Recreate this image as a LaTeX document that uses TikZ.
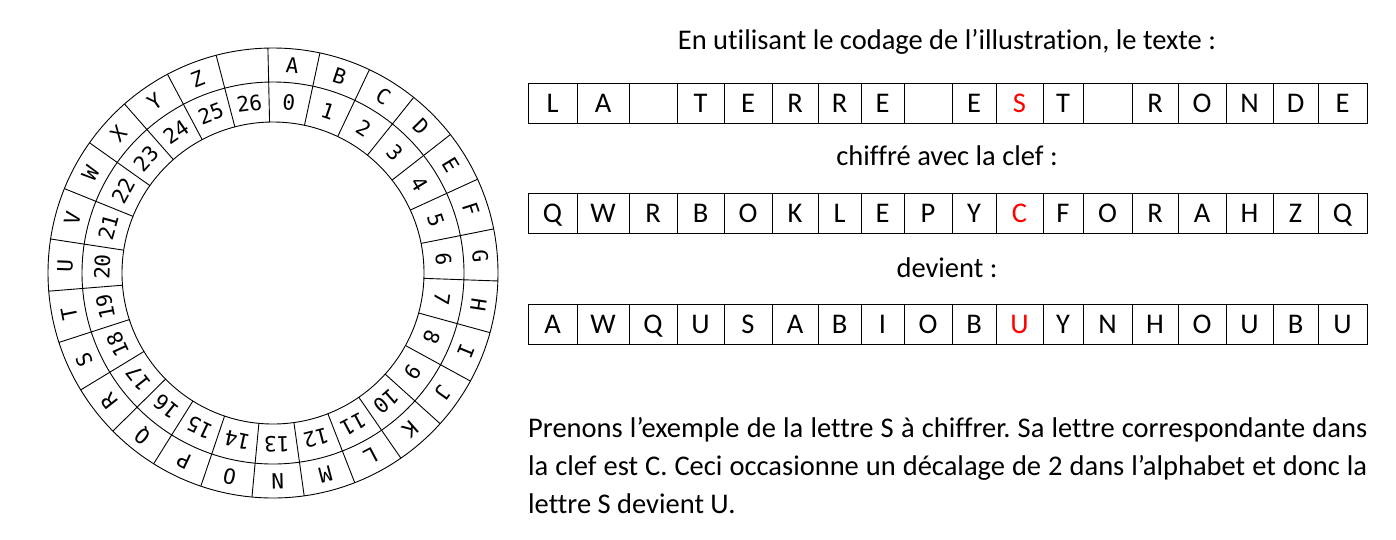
\documentclass[tikz,border=0pt]{standalone}
\usepackage{fontspec}
\setmainfont[Ligatures=NoCommon]{Carlito}
\newfontfamily\wheelfont{DejaVu Sans Mono}
\usetikzlibrary{positioning}
\frenchspacing

\begin{document}
\begin{tikzpicture}[
		x=1pt, y=1pt,
		font=\fontsize{28.5}{38}\selectfont,
		% Styles
		wheelLine/.style={draw=black, line width=0.9pt},
		wheelLetter/.style={font=\wheelfont\fontsize{21}{21}\selectfont, inner sep=0pt},
		cellBox/.style={draw=black, line width=1pt, minimum height=40, inner sep=0pt, text height=18pt, text depth=0pt},
		caption/.style={anchor=base, inner sep=0pt}
		]
		\useasboundingbox (0,0) rectangle (1396,-539);
		
		% =========================================================
		% 1. CIPHER WHEEL
		% =========================================================
		\begin{scope}[shift={(273,-273)}]
			\draw[wheelLine] (0,0) circle (225);
			\draw[wheelLine] (0,0) circle (191);
			\draw[wheelLine] (0,0) circle (151);
			\foreach \k in {0,...,26}
				\draw[wheelLine] ({91.3-13.3333*\k}:151) -- ({91.3-13.3333*\k}:225);
			% Letters (outer ring) and numbers (inner ring)
			\foreach \l [count=\k from 0] in {A,B,C,D,E,F,G,H,I,J,K,L,M,N,O,P,Q,R,S,T,U,V,W,X,Y,Z} {
				\pgfmathsetmacro\a{91.3-13.3333*(\k+0.5)}
				\node[wheelLetter, rotate=\a-90] (let-\k) at (\a:208) {\l};
			}
			\foreach \k in {0,...,26} {
				\pgfmathsetmacro\a{91.3-13.3333*(\k+0.5)}
				\node[wheelLetter, rotate=\a-90] (num-\k) at (\a:171) {\k};
			}
		\end{scope}
		
		% =========================================================
		% 2. TABLES
		% =========================================================
		\def\colx{{528,577,629,677,724,772,818,861,904,952,996,1043,1083,1132,1178,1226,1273,1318,1367}}
		
		\node[caption] (Title) at (947,-49) {En utilisant le codage de l’illustration, le texte :};
		
		% Plain text
		\foreach \t [count=\c] in {L,A,{},T,E,R,R,E,{},E,S,T,{},R,O,N,D,E} {
			\pgfmathsetmacro\xa{\colx[\c-1]}
			\pgfmathsetmacro\xb{\colx[\c]}
			\ifnum\c=11 \def\tc{red}\else\def\tc{black}\fi
			\node[cellBox, minimum width=\xb-\xa, text=\tc] (txt-\c) at ({(\xa+\xb)/2},-103) {\t};
		}
		
		\node[caption] (KeyCaption) at (947,-165) {chiffré avec la clef :};
		
		% Key
		\foreach \t [count=\c] in {Q,W,R,B,O,K,L,E,P,Y,C,F,O,R,A,H,Z,Q} {
			\pgfmathsetmacro\xa{\colx[\c-1]}
			\pgfmathsetmacro\xb{\colx[\c]}
			\ifnum\c=11 \def\tc{red}\else\def\tc{black}\fi
			\node[cellBox, minimum width=\xb-\xa, text=\tc] (key-\c) at ({(\xa+\xb)/2},-213) {\t};
		}
		
		\node[caption] (ResCaption) at (947,-277) {devient :};
		
		% Ciphered text
		\foreach \t [count=\c] in {A,W,Q,U,S,A,B,I,O,B,U,Y,N,H,O,U,B,U} {
			\pgfmathsetmacro\xa{\colx[\c-1]}
			\pgfmathsetmacro\xb{\colx[\c]}
			\ifnum\c=11 \def\tc{red}\else\def\tc{black}\fi
			\node[cellBox, minimum width=\xb-\xa, text=\tc] (res-\c) at ({(\xa+\xb)/2},-324) {\t};
		}
		
		% =========================================================
		% 3. EXPLANATION
		% =========================================================
		\node[anchor=base west, inner sep=0pt, align=left] (Explain) at (528,-513) {\hbox to 839pt{Prenons l’exemple de la lettre S à chiffrer. Sa lettre correspondante dans}\\
			\hbox to 839pt{la clef est C. Ceci occasionne un décalage de 2 dans l’alphabet et donc la}\\
			lettre S devient U.};
		
	\end{tikzpicture}
\end{document}
